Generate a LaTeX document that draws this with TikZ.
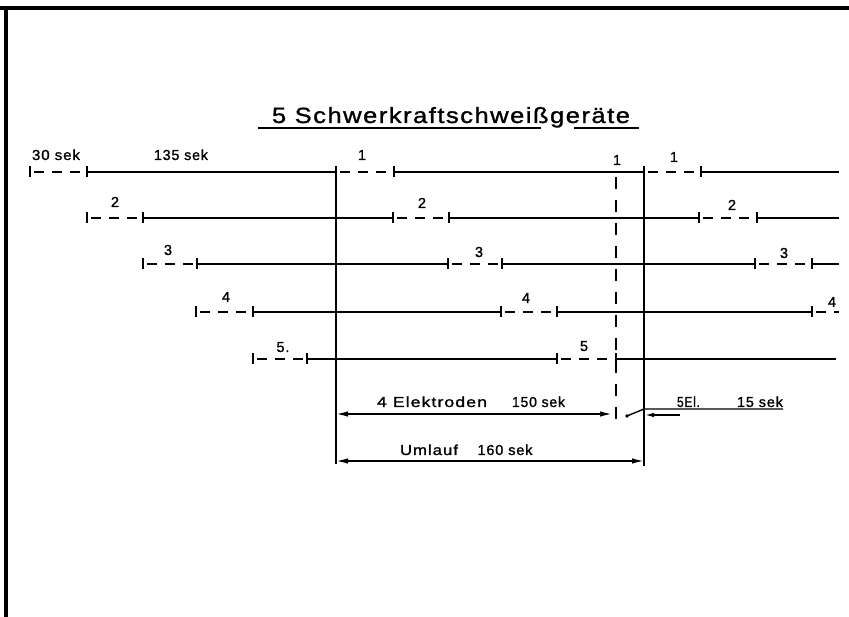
\documentclass[tikz,border=0pt]{standalone}
\usepackage{graphicx}
\usepackage{fontspec}
\setmainfont{Liberation Sans}[LetterSpace=6, FakeBold=1.2]
\usetikzlibrary{arrows.meta}
\newcommand\fitw[2]{\resizebox{#1}{\height}{#2}}
\newcommand\lblfont{\fontsize{14.5pt}{16pt}\selectfont}
\newcommand\ttlfont{\fontsize{22pt}{24pt}\selectfont}
\newcommand\tck[2]{\draw[tickm] (#1,#2-5.5) -- (#1,#2+5.5);}
\newcommand\dsh[3]{\draw[dseg] (#1+4,#3) -- (#2,#3);}
\newcommand\sld[3]{\draw[seg] (#1,#3) -- (#2,#3);}
\begin{document}
\begin{tikzpicture}[x=1pt,y=-1pt,
  seg/.style={line width=2.3pt},
  vseg/.style={line width=2pt},
  dseg/.style={line width=2.3pt, dash pattern=on 10pt off 8pt},
  tickm/.style={line width=2pt},
  vdash/.style={line width=2pt, dash pattern=on 12pt off 11pt},
  lbl/.style={font=\lblfont, inner sep=0pt, anchor=base},
  dimarr/.style={line width=1.6pt, {Latex[length=12pt,width=5.5pt]}-{Latex[length=12pt,width=5.5pt]}},
  border/.style={line width=3.2pt}]
\useasboundingbox (0,0) rectangle (849,617);
% frame
\draw[border] (0,8) -- (849,8);
\draw[border] (6,8) -- (6,617);
% title
\node[inner sep=0pt, anchor=base, font=\ttlfont] (title) at (451,123) {\fitw{358pt}{5 Schwerkraftschweißgeräte}};
\draw[line width=1.8pt] (258,128) -- (541,128);
\draw[line width=1.8pt] (574,128) -- (639,128);
% row 1
\tck{30}{172}\dsh{30}{87}{172}\tck{87}{172}\sld{87}{336}{172}\tck{336}{172}
\dsh{336}{394}{172}\tck{394}{172}\sld{394}{644}{172}\tck{644}{172}
\dsh{644}{701}{172}\tck{701}{172}\sld{701}{839}{172}
% row 2
\tck{87}{218}\dsh{87}{143}{218}\tck{143}{218}\sld{143}{393}{218}\tck{393}{218}
\dsh{393}{449}{218}\tck{449}{218}\sld{449}{699}{218}\tck{699}{218}
\dsh{699}{757}{218}\tck{757}{218}\sld{757}{839}{218}
% row 3
\tck{143}{264}\dsh{143}{197}{264}\tck{197}{264}\sld{197}{448}{264}\tck{448}{264}
\dsh{448}{502}{264}\tck{502}{264}\sld{502}{755}{264}\tck{755}{264}
\dsh{755}{812}{264}\tck{812}{264}\sld{812}{839}{264}
% row 4
\tck{196}{312}\dsh{196}{253}{312}\tck{253}{312}\sld{253}{501}{312}\tck{501}{312}
\dsh{501}{557}{312}\tck{557}{312}\sld{557}{812}{312}\tck{812}{312}
\dsh{812}{839}{312}
% row 5
\tck{253}{359}\dsh{253}{307}{359}\tck{307}{359}\sld{307}{557}{359}\tck{557}{359}
\dsh{557}{615}{359}\tck{616}{359}\sld{616}{836}{359}
% row labels
\node[lbl] (l30) at (56,160) {\fitw{48pt}{30 sek}};
\node[lbl] (l135) at (181,160) {\fitw{54pt}{135 sek}};
\node[lbl] (l1a) at (362,160) {1};
\node[lbl] (l1b) at (617,165) {1};
\node[lbl] (l1c) at (674,162) {1};
\node[lbl] (l2a) at (115,207) {2};
\node[lbl] (l2b) at (422,208) {2};
\node[lbl] (l2c) at (732,210) {2};
\node[lbl] (l3a) at (168,255) {3};
\node[lbl] (l3b) at (479,257) {3};
\node[lbl] (l3c) at (784,258) {3};
\node[lbl] (l4a) at (226,302) {4};
\node[lbl] (l4b) at (526,303) {4};
\node[lbl] (l4c) at (832,307) {4};
\node[lbl] (l5a) at (283,352) {5.};
\node[lbl] (l5b) at (584,351) {5};
% reference lines
\coordinate (vlt) at (336,172);
\coordinate (vlb) at (336,464);
\coordinate (vrt) at (644,172);
\coordinate (vrb) at (644,466);
\coordinate (vdt) at (616,177);
\coordinate (vdb) at (616,423);
\draw[vseg] (vlt) -- (vlb);
\draw[vseg] (vrt) -- (vrb);
\draw[vdash] (vdt) -- (vdb);
% dimensions
\coordinate (eL) at (336,414);
\coordinate (eR) at (612,414);
\draw[dimarr] (eL) -- (eR);
\coordinate (uL) at (336,461);
\coordinate (uR) at (644,461);
\draw[dimarr] (uL) -- (uR);
\node[lbl] (elek) at (432,407) {\fitw{110pt}{4 Elektroden}};
\node[lbl] (e150) at (538.5,407) {\fitw{53pt}{150 sek}};
\node[lbl] (uml) at (429,455) {\fitw{58pt}{Umlauf}};
\node[lbl] (u160) at (505,455) {\fitw{55pt}{160 sek}};
% 5 El. note
\coordinate (dot) at (627,416);
\coordinate (knee) at (644,409);
\coordinate (lend) at (783,409);
\coordinate (atail) at (680,415);
\coordinate (ahead) at (645,415);
\fill (dot) circle (1.9pt);
\draw[line width=1.4pt] (dot) -- (knee) -- (lend);
\draw[line width=1.4pt, -{Latex[length=9pt,width=4.5pt]}] (atail) -- (ahead);
\node[lbl] (el5) at (688.5,407) {\fitw{23pt}{5El.}};
\node[lbl] (s15) at (760,407) {\fitw{46pt}{15 sek}};
\end{tikzpicture}
\end{document}
